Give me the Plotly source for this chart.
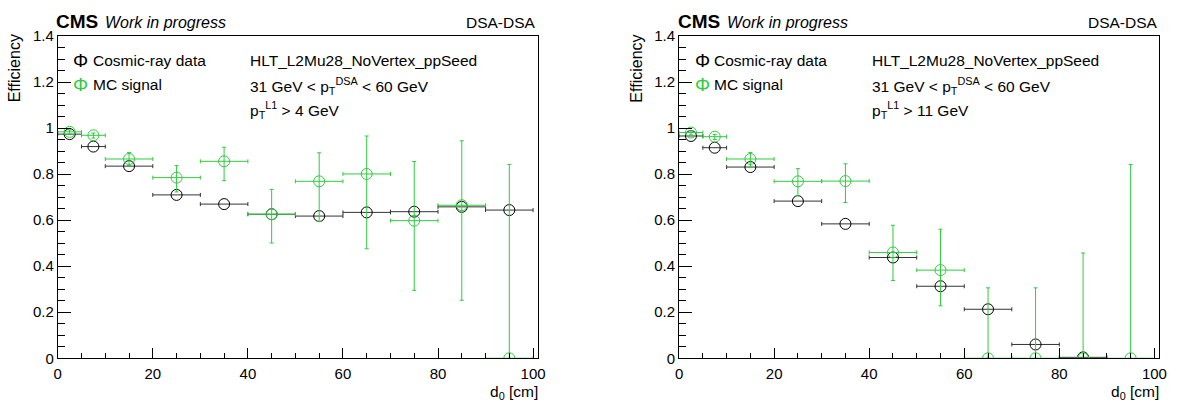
import plotly.graph_objects as go

W, H = 1182, 407

# ---- data ----
bin_centers = [2.5, 7.5, 15, 25, 35, 45, 55, 65, 75, 85, 95]
bin_halfwidths = [2.5, 2.5, 5, 5, 5, 5, 5, 5, 5, 5, 5]

# left panel: pT(L1) > 4 GeV
left_data = [0.974, 0.920, 0.835, 0.710, 0.670, 0.626, 0.618, 0.634, 0.637, 0.658, 0.644]
left_mc = [0.984, 0.969, 0.866, 0.785, 0.856, 0.626, 0.769, 0.801, 0.598, 0.665, 0.0]
left_mc_up = [0.008, 0.010, 0.028, 0.053, 0.061, 0.108, 0.124, 0.165, 0.257, 0.280, 0.8425]
left_mc_dn = [0.010, 0.012, 0.028, 0.062, 0.084, 0.125, 0.174, 0.325, 0.303, 0.413, 0.0]

# right panel: pT(L1) > 11 GeV
right_centers = [2.5, 7.5, 15, 25, 35, 45, 55, 65, 75, 85]
right_halfwidths = [2.5, 2.5, 5, 5, 5, 5, 5, 5, 5, 5]
right_data = [0.966, 0.915, 0.831, 0.683, 0.584, 0.438, 0.313, 0.213, 0.060, 0.004]
right_mc = [0.981, 0.963, 0.866, 0.769, 0.770, 0.460, 0.383, 0.0, 0.0, 0.0, 0.0]
right_mc_up = [0.008, 0.010, 0.028, 0.055, 0.075, 0.118, 0.178, 0.306, 0.306, 0.4575, 0.8425]
right_mc_dn = [0.010, 0.012, 0.035, 0.063, 0.093, 0.122, 0.155, 0.0, 0.0, 0.0, 0.0]

y_ticks = [0, 0.2, 0.4, 0.6, 0.8, 1, 1.2, 1.4]
x_ticks = [0, 20, 40, 60, 80, 100]

l1_cut = ["4", "11"]

GREEN = "#2fcc3e"
FONT = "Liberation Sans, Arial, Helvetica, sans-serif"

def px(x):
    return x / W

def py(y):
    return 1 - y / H

fig = go.Figure()

panels = [
    ("x", "y", bin_centers, bin_halfwidths, left_data, bin_centers, bin_halfwidths, left_mc, left_mc_up, left_mc_dn),
    ("x2", "y2", right_centers, right_halfwidths, right_data, bin_centers, bin_halfwidths, right_mc, right_mc_up, right_mc_dn),
]

for xa, ya, dc, dhw, dv, mc_c, mc_hw, mv, mup, mdn in panels:
    fig.add_trace(go.Scatter(
        x=dc, y=dv, xaxis=xa, yaxis=ya, mode="markers",
        marker=dict(symbol="circle-open", size=11, color="black", line=dict(width=1, color="black")),
        error_x=dict(type="data", array=dhw, color="#333333", thickness=1, width=2),
        showlegend=False,
    ))
    fig.add_trace(go.Scatter(
        x=mc_c, y=mv, xaxis=xa, yaxis=ya, mode="markers",
        marker=dict(symbol="circle-open", size=11, color=GREEN, line=dict(width=1, color=GREEN)),
        error_x=dict(type="data", array=mc_hw, color=GREEN, thickness=1, width=2),
        error_y=dict(type="data", array=mup, arrayminus=mdn, color=GREEN, thickness=1, width=2),
        showlegend=False,
    ))

ydom = [py(364.5), py(28.3)]
xdoms = [[px(54.3), px(539.3)], [px(682.0), px(1167.0)]]

axis_common = dict(
    showline=True, linecolor="black", linewidth=1, mirror=True,
    ticks="inside", tickcolor="black", tickwidth=1,
    showgrid=False, zeroline=False,
    tickfont=dict(family=FONT, size=15, color="black"),
)

for i, xd in enumerate(xdoms):
    sfx = "" if i == 0 else str(i + 1)
    fig.layout["xaxis" + sfx] = dict(
        axis_common, domain=xd, range=[0, 101], tickvals=x_ticks, ticklen=10,
        ticklabelstandoff=2,
        minor=dict(dtick=5, tick0=0, ticks="inside", ticklen=5, tickcolor="black", showgrid=False),
        anchor="y" + sfx,
    )
    fig.layout["yaxis" + sfx] = dict(
        axis_common, domain=ydom, range=[0, 1.4], tickvals=y_ticks, ticklen=13,
        minor=dict(dtick=0.05, tick0=0, ticks="inside", ticklen=7, tickcolor="black", showgrid=False),
        anchor="x" + sfx,
    )

ann = []
for i in range(2):
    off = 0 if i == 0 else 627.7
    def A(text, x, y, xanchor="left", size=15.5, color="black", textangle=0, width=None):
        d = dict(text=text, x=px(x + off), y=py(y), xref="paper", yref="paper",
                 xanchor=xanchor, yanchor="middle", showarrow=False, textangle=textangle,
                 borderpad=0, borderwidth=0,
                 font=dict(family=FONT, size=size, color=color))
        if width is not None:
            d["width"] = width
            d["align"] = "left"
        ann.append(d)
    A("<b>CMS</b>", 53, 13, size=19, width=60)
    A("<i>Work in progress</i>", 102.5, 14, size=16, width=180)
    A("DSA-DSA", 467, 14, size=15.5, width=120)
    A("Φ", 77.5, 53.5, xanchor="center", size=19, color="black")
    A("Φ", 77.5, 78.5, xanchor="center", size=19, color=GREEN)
    A("Cosmic-ray data", 89.5, 53.5, width=160)
    A("MC signal", 89.5, 78.5, width=160)
    A("HLT_L2Mu28_NoVertex_ppSeed", 249, 53.5, width=280)
    A("31 GeV &lt; p<sub>T</sub><sup>DSA</sup> &lt; 60 GeV", 249, 80, width=280)
    A("p<sub>T</sub><sup>L1</sup> &gt; " + l1_cut[i] + " GeV", 249, 105, width=280)
    A("Efficiency", 11, 62, xanchor="center", size=16, textangle=-90)
    A("d<sub>0</sub> [cm]", 491, 400, size=15.5, width=100)

fig.update_layout(
    width=W, height=H, margin=dict(l=0, r=0, t=0, b=0),
    paper_bgcolor="white", plot_bgcolor="white",
    annotations=ann, showlegend=False,
)

fig.write_html("out.html")
